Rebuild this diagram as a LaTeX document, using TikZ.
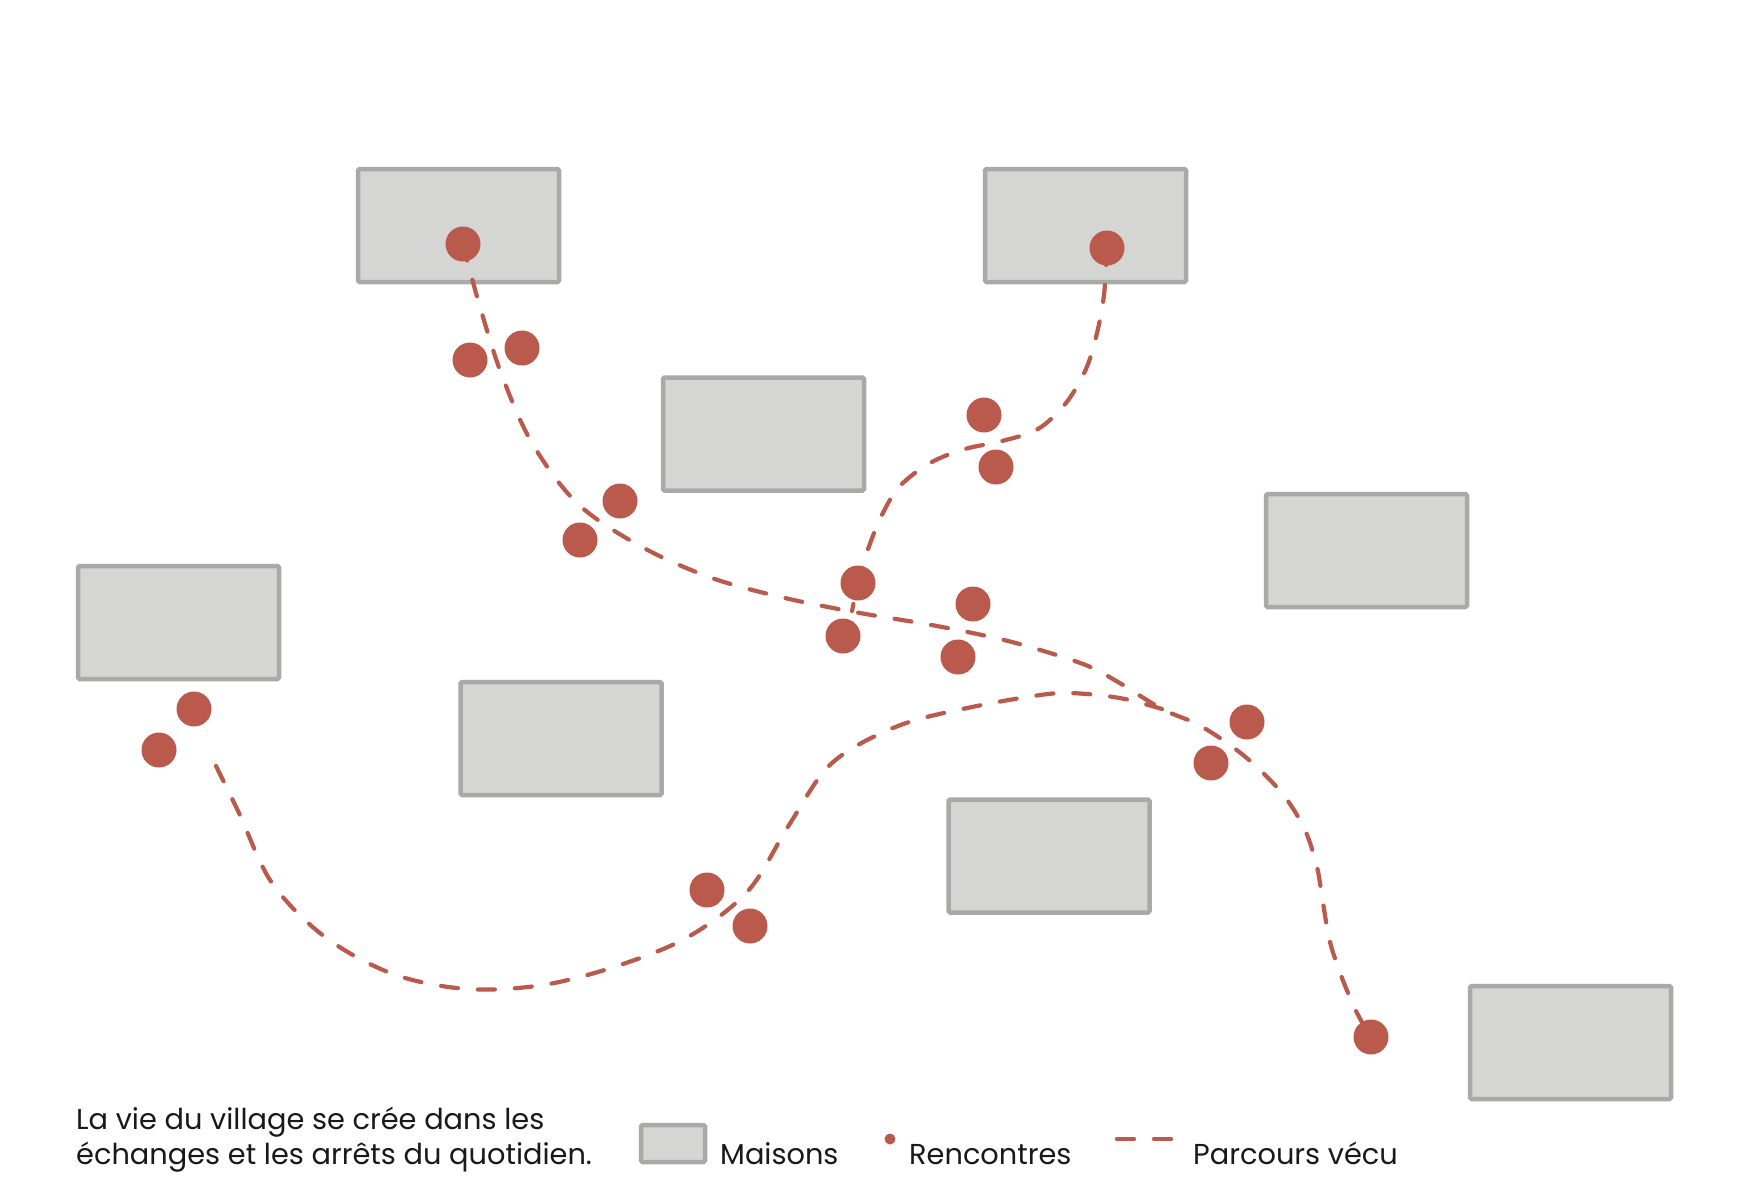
\documentclass[tikz,border=0pt]{standalone}
\usepackage{fontspec}
\setmainfont{Poppins}
\definecolor{rouge}{HTML}{B95A4C}
\definecolor{mur}{HTML}{A9A9A9}
\definecolor{toit}{HTML}{D5D5D4}
\pgfdeclarelayer{fond}
\pgfdeclarelayer{maisons}
\pgfdeclarelayer{chemins}
\pgfsetlayers{fond,maisons,chemins,main}
\begin{document}
\begin{tikzpicture}[x=1pt,y=-1pt,
  maison/.style={draw=mur, fill=toit, line width=4.5pt, rounded corners=1.5pt, rectangle, inner sep=0pt, minimum width=201pt, minimum height=113pt},
  rencontre/.style={circle, fill=rouge, inner sep=0pt, minimum size=35pt},
  parcours/.style={draw=rouge, line width=4.2pt, line cap=round, dash pattern=on 17pt off 20pt},
  legende/.style={anchor=base west, font=\fontsize{28.8}{34}\selectfont, text=black!90, inner sep=0pt}]
\begin{pgfonlayer}{fond}
\fill[white] (0,0) rectangle (1749,1200);
\end{pgfonlayer}
\useasboundingbox (0,0) rectangle (1749,1200);

% houses
\begin{pgfonlayer}{maisons}
\node[maison] (h1) at (458.5,225.5) {};
\node[maison] (h2) at (1085.5,225.5) {};
\node[maison] (h3) at (763.5,434) {};
\node[maison] (h4) at (1366.5,550.5) {};
\node[maison] (h5) at (178.5,622.5) {};
\node[maison] (h6) at (561,738.5) {};
\node[maison] (h7) at (1049,856) {};
\node[maison] (h8) at (1570.5,1042.5) {};
\end{pgfonlayer}

% encounters
\node[rencontre] (a) at (463,244) {};
\node[rencontre] (b) at (470,360) {};
\node[rencontre] (c) at (522,348) {};
\node[rencontre] (d) at (620,501) {};
\node[rencontre] (e) at (580,540) {};
\node[rencontre] (f) at (1107,248) {};
\node[rencontre] (g) at (984,415) {};
\node[rencontre] (hh) at (996,467) {};
\node[rencontre] (i) at (858,583) {};
\node[rencontre] (j) at (843,636) {};
\node[rencontre] (k) at (973,604) {};
\node[rencontre] (l) at (958,657) {};
\node[rencontre] (m) at (194,709) {};
\node[rencontre] (n) at (159,750) {};
\node[rencontre] (o) at (707,890) {};
\node[rencontre] (p) at (750,926) {};
\node[rencontre] (q) at (1247,722) {};
\node[rencontre] (r) at (1211,763) {};
\node[rencontre] (s) at (1371,1037) {};

\coordinate (jB) at (852,611);
\coordinate (cStart) at (216,766);
\coordinate (cEnd) at (1162,709);

% paths
\begin{pgfonlayer}{chemins}
\draw[parcours] plot[smooth, tension=0.55] coordinates {(a) (478,300) (501,373) (532,443) (578,504) (642,547) (712,578) (785,598) (860,613) (937,626) (1012,642) (1083,664) (1118,682) (cEnd) (1197,724) (1230,745) (1258,768) (1285,797) (1305,830) (1317,867) (1323,903) (1330,942) (1342,978) (1357,1013) (s)};
\draw[parcours] plot[smooth, tension=0.55] coordinates {(f) (1104,295) (1097,333) (1086,369) (1066,403) (1038,429) (1002,441) (965,449) (930,463) (899,487) (880,519) (866,555) (i) (jB)};
\draw[parcours] plot[smooth, tension=0.55] coordinates {(cStart) (239,813) (272,883) (325,937) (393,974) (467,989) (543,985) (617,966) (688,937) (748,891) (789,825) (832,763) (898,726) (972,707) (1048,694) (1087,694) (1125,699) (cEnd)};
\end{pgfonlayer}

% legend
\node[legende] (t1) at (76,1129) {La vie du village se crée dans les};
\node[legende] (t2) at (76,1164) {échanges et les arrêts du quotidien.};
\node[maison, minimum width=64pt, minimum height=37pt] (lm) at (673,1143.5) {};
\node[legende] (tm) at (720,1164) {Maisons};
\node[circle, fill=rouge, inner sep=0pt, minimum size=11pt] (lr) at (890,1139) {};
\node[legende] (tr) at (909,1164) {Rencontres};
\coordinate (lp1) at (1117,1139);
\coordinate (lp2) at (1176,1139);
\draw[parcours] (lp1) -- (lp2);
\node[legende] (tp) at (1193,1164) {Parcours vécu};
\end{tikzpicture}
\end{document}
